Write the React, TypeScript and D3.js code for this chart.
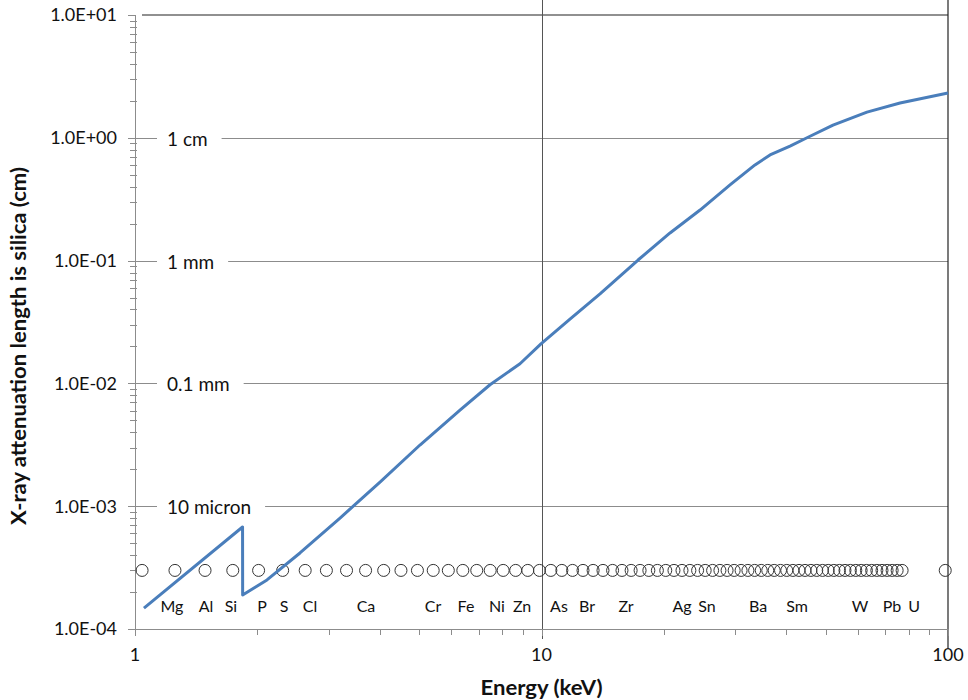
import React, { useEffect, useRef } from "react";
import * as d3 from "d3";

// Attenuation length of silica (cm) vs photon energy (keV)
const energyKeV = [
  1.052, 1.839, 1.840, 2.112, 2.546, 3.194, 4.006, 5.024, 6.302, 7.47, 8.853, 9.97,
  11.75, 13.93, 17.28, 20.71, 24.55, 29.09, 33.51, 36.49, 40.87, 45.25, 52.13, 63.19,
  76.2, 100,
];
const attenuationCm = [
  1.48e-4, 6.77e-4, 1.89e-4, 2.51e-4, 4.16e-4, 8.01e-4, 1.57e-3, 3.15e-3, 6.07e-3,
  9.75e-3, 0.01445, 0.02096, 0.0334, 0.0535, 0.1011, 0.168, 0.258, 0.413, 0.601,
  0.725, 0.857, 1.01, 1.27, 1.62, 1.92, 2.32,
];

// K-alpha line energies (keV) of the elements, shown as a row of markers
const kAlphaKeV = [
  1.041, 1.254, 1.487, 1.74, 2.014, 2.308, 2.622, 2.957, 3.314, 3.692, 4.091, 4.511,
  4.952, 5.415, 5.899, 6.404, 6.93, 7.478, 8.048, 8.639, 9.252, 9.886, 10.544, 11.222,
  11.924, 12.649, 13.395, 14.165, 14.958, 15.775, 16.615, 17.479, 18.367, 19.279,
  20.216, 21.177, 22.163, 23.174, 24.21, 25.271, 26.359, 27.472, 28.612, 29.779,
  30.973, 32.194, 33.442, 34.72, 36.026, 37.361, 38.725, 40.118, 41.542, 42.996,
  44.482, 45.998, 47.547, 49.128, 50.742, 52.389, 54.07, 55.79, 57.532, 59.318, 61.14,
  63.001, 64.896, 66.832, 68.804, 70.819, 72.872, 74.969, 77.108, 98.439,
];
const markerLevelCm = 3e-4;

// Element names and the energy each name sits under
const elementNames = [
  "Mg", "Al", "Si", "P", "S", "Cl", "Ca", "Cr", "Fe", "Ni", "Zn", "As", "Br", "Zr",
  "Ag", "Sn", "Ba", "Sm", "W", "Pb", "U",
];
const elementNameKeV = [
  1.233, 1.495, 1.722, 2.053, 2.326, 2.695, 3.7, 5.409, 6.52, 7.77, 8.96, 11.04, 12.94,
  16.14, 22.16, 25.54, 34.09, 42.52, 60.75, 72.84, 82.49,
];

// Reference depths written on the horizontal gridlines
const depthNames = ["1 cm", "1 mm", "0.1 mm", "10 micron"];
const depthValuesCm = [1, 0.1, 0.01, 0.001];

const yTickValues = [1e-4, 1e-3, 1e-2, 1e-1, 1, 10];
const yTickLabels = ["1.0E-04", "1.0E-03", "1.0E-02", "1.0E-01", "1.0E+00", "1.0E+01"];
const xTickValues = [1, 10, 100];
const xTickLabels = ["1", "10", "100"];

const W = 968;
const H = 700;
const FONT = "Lato, 'Open Sans', sans-serif";

export default function App() {
  const ref = useRef<SVGSVGElement>(null);

  useEffect(() => {
    const svg = d3.select(ref.current);
    svg.selectAll("*").remove();

    const x = d3.scaleLog().domain([1, 100]).range([135, 948]);
    const y = d3.scaleLog().domain([1e-4, 10]).range([629, 15]);
    const [x0, x1] = x.range();
    const [yb, yt] = y.range();

    svg.append("rect").attr("width", W).attr("height", H).attr("fill", "#fff");

    // horizontal gridlines
    svg
      .append("g")
      .selectAll("line")
      .data(yTickValues.slice(1, -1))
      .join("line")
      .attr("x1", x0)
      .attr("x2", x1)
      .attr("y1", (d) => Math.round(y(d)) + 0.5)
      .attr("y2", (d) => Math.round(y(d)) + 0.5)
      .attr("stroke", "#8c8c8c")
      .attr("stroke-width", 1);

    // frame lines: top edge, 10 keV line and right edge
    svg
      .append("line")
      .attr("x1", x0 + 7)
      .attr("x2", x1)
      .attr("y1", yt)
      .attr("y2", yt)
      .attr("stroke", "#222")
      .attr("stroke-width", 1.2);
    svg
      .append("line")
      .attr("x1", Math.round(x(10)) + 0.5)
      .attr("x2", Math.round(x(10)) + 0.5)
      .attr("y1", 0)
      .attr("y2", yb + 10)
      .attr("stroke", "#555")
      .attr("stroke-width", 1);
    svg
      .append("line")
      .attr("x1", x1)
      .attr("x2", x1)
      .attr("y1", 0)
      .attr("y2", yb + 19)
      .attr("stroke", "#222")
      .attr("stroke-width", 1.2);

    // axes lines
    svg
      .append("line")
      .attr("x1", x0 + 0.5)
      .attr("x2", x0 + 0.5)
      .attr("y1", yt)
      .attr("y2", yb)
      .attr("stroke", "#8c8c8c");
    svg
      .append("line")
      .attr("x1", x0)
      .attr("x2", x1)
      .attr("y1", yb + 0.5)
      .attr("y2", yb + 0.5)
      .attr("stroke", "#8c8c8c");

    // y ticks (major + minor)
    const yMinor: number[] = [];
    for (let k = -4; k < 1; k++) for (let m = 2; m <= 9; m++) yMinor.push(m * Math.pow(10, k));
    svg
      .append("g")
      .selectAll("line")
      .data(yMinor)
      .join("line")
      .attr("x1", x0 - 5)
      .attr("x2", x0 + 2)
      .attr("y1", (d) => Math.round(y(d)) + 0.5)
      .attr("y2", (d) => Math.round(y(d)) + 0.5)
      .attr("stroke", "#8c8c8c");
    svg
      .append("g")
      .selectAll("line")
      .data(yTickValues)
      .join("line")
      .attr("x1", x0 - 7)
      .attr("x2", x0)
      .attr("y1", (d) => Math.round(y(d)) + 0.5)
      .attr("y2", (d) => Math.round(y(d)) + 0.5)
      .attr("stroke", "#8c8c8c");
    svg
      .append("g")
      .selectAll("text")
      .data(yTickValues)
      .join("text")
      .attr("x", x0 - 18)
      .attr("y", (d) => y(d))
      .attr("dy", "0.35em")
      .attr("text-anchor", "end")
      .attr("font-family", FONT)
      .attr("font-size", 18)
      .attr("fill", "#111")
      .text((_, i) => yTickLabels[i]);

    // x ticks (major + minor)
    const xMinor: number[] = [];
    for (let k = 0; k < 2; k++) for (let m = 2; m <= 9; m++) xMinor.push(m * Math.pow(10, k));
    svg
      .append("g")
      .selectAll("line")
      .data(xMinor)
      .join("line")
      .attr("x1", (d) => Math.round(x(d)) + 0.5)
      .attr("x2", (d) => Math.round(x(d)) + 0.5)
      .attr("y1", yb)
      .attr("y2", yb + 6)
      .attr("stroke", "#8c8c8c");
    svg
      .append("g")
      .selectAll("line")
      .data(xTickValues)
      .join("line")
      .attr("x1", (d) => Math.round(x(d)) + 0.5)
      .attr("x2", (d) => Math.round(x(d)) + 0.5)
      .attr("y1", yb)
      .attr("y2", yb + 7)
      .attr("stroke", "#8c8c8c");
    svg
      .append("g")
      .selectAll("text")
      .data(xTickValues)
      .join("text")
      .attr("x", (d) => x(d))
      .attr("y", yb + 26)
      .attr("dy", "0.35em")
      .attr("text-anchor", "middle")
      .attr("font-family", FONT)
      .attr("font-size", 18)
      .attr("fill", "#111")
      .text((_, i) => xTickLabels[i]);

    // depth labels on gridlines with a white gap behind each
    const depthG = svg.append("g");
    depthNames.forEach((name, i) => {
      const yy = Math.round(y(depthValuesCm[i])) + 0.5;
      const gap = depthG.append("rect").attr("fill", "#fff");
      const t = depthG
        .append("text")
        .attr("x", 167)
        .attr("y", yy + 1)
        .attr("dy", "0.35em")
        .attr("font-family", FONT)
        .attr("font-size", 19)
        .attr("fill", "#111")
        .text(name);
      const bb = (t.node() as SVGTextElement).getBBox();
      gap
        .attr("x", bb.x - 10)
        .attr("y", yy - 4)
        .attr("width", bb.width + 24)
        .attr("height", 8);
    });

    // K-alpha markers
    svg
      .append("g")
      .selectAll("circle")
      .data(kAlphaKeV)
      .join("circle")
      .attr("cx", (d) => x(d))
      .attr("cy", y(markerLevelCm))
      .attr("r", 6)
      .attr("fill", "none")
      .attr("stroke", "#333")
      .attr("stroke-width", 1);

    // element names
    svg
      .append("g")
      .selectAll("text")
      .data(elementNames)
      .join("text")
      .attr("x", (_, i) => x(elementNameKeV[i]))
      .attr("y", y(markerLevelCm) + 36)
      .attr("dy", "0.35em")
      .attr("text-anchor", "middle")
      .attr("font-family", FONT)
      .attr("font-size", 16)
      .attr("fill", "#111")
      .text((d) => d);

    // attenuation curve
    const line = d3
      .line<number>()
      .x((_, i) => x(energyKeV[i]))
      .y((d) => y(d));
    svg
      .append("path")
      .attr("d", line(attenuationCm))
      .attr("fill", "none")
      .attr("stroke", "#4A7EBB")
      .attr("stroke-width", 3)
      .attr("stroke-linejoin", "round");

    // axis titles
    svg
      .append("text")
      .attr("x", (x0 + x1) / 2)
      .attr("y", 688)
      .attr("dy", "0.35em")
      .attr("text-anchor", "middle")
      .attr("font-family", FONT)
      .attr("font-weight", "bold")
      .attr("font-size", 20)
      .attr("textLength", 122)
      .attr("lengthAdjust", "spacingAndGlyphs")
      .attr("fill", "#111")
      .text("Energy (keV)");
    svg
      .append("text")
      .attr("transform", `translate(19,346) rotate(-90)`)
      .attr("dy", "0.35em")
      .attr("text-anchor", "middle")
      .attr("font-family", FONT)
      .attr("font-weight", "bold")
      .attr("font-size", 20)
      .attr("textLength", 358)
      .attr("lengthAdjust", "spacingAndGlyphs")
      .attr("fill", "#111")
      .text("X-ray attenuation length is silica (cm)");
  }, []);

  return (
    <svg
      ref={ref}
      width={W}
      height={H}
      style={{ position: "absolute", left: 0, top: 0, display: "block" }}
    />
  );
}
